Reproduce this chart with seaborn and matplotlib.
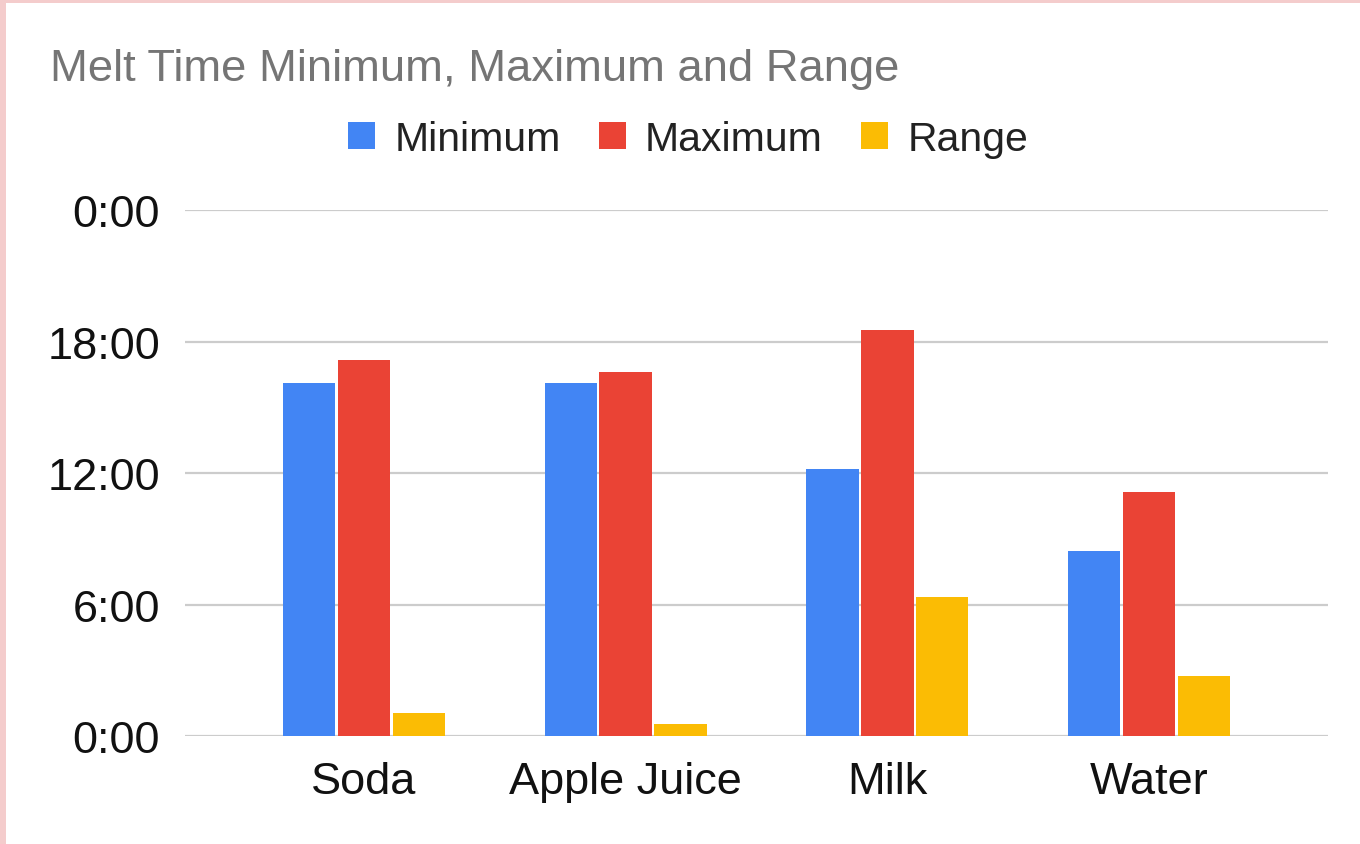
import matplotlib
matplotlib.use("Agg")
import matplotlib.pyplot as plt
import seaborn as sns
import pandas as pd
from matplotlib.patches import Rectangle

# Data (melt times in minutes)
categories = ["Soda", "Apple Juice", "Milk", "Water"]
minimum = [16.1, 16.1, 12.18, 8.44]
maximum = [17.15, 16.6, 18.52, 11.13]
rng = [1.05, 0.55, 6.34, 2.74]
series_names = ["Minimum", "Maximum", "Range"]
ytick_values = [0, 6, 12, 18, 24]
ytick_labels = ["0:00", "6:00", "12:00", "18:00", "0:00"]
colors = ["#4285F4", "#EA4335", "#FBBC04"]

df = pd.DataFrame({
    "Category": categories * 3,
    "Series": sum([[s] * len(categories) for s in series_names], []),
    "Value": minimum + maximum + rng,
})

sns.set_theme(style="white")
plt.rcParams["font.family"] = ["Liberation Sans", "DejaVu Sans"]

W, H = 1360, 845
fig = plt.figure(figsize=(W / 100, H / 100), dpi=100)
fig.patch.set_facecolor("white")

ax = fig.add_axes([185 / W, 1 - 737 / H, (1328 - 185) / W, (737 - 211) / H])
sns.barplot(data=df, x="Category", y="Value", hue="Series", order=categories,
            hue_order=series_names, palette=colors, width=0.63, gap=0.05,
            saturation=1, ax=ax, legend=True)

ax.set_xlim(-0.683, 3.683)
ax.set_ylim(0, 24)
ax.set_yticks(ytick_values)
ax.set_yticklabels(ytick_labels)
ax.set_xlabel("")
ax.set_ylabel("")
for s in ax.spines.values():
    s.set_visible(False)
ax.yaxis.grid(True, color="#cccccc", linewidth=1.6)
ax.set_axisbelow(True)
ax.tick_params(axis="y", length=0, pad=18, labelsize=32.5, labelcolor="#111111")
ax.tick_params(axis="x", length=0, pad=18, labelsize=32.5, labelcolor="#111111")
for p in ax.patches:
    p.set_edgecolor("none")

handles, labels = ax.get_legend_handles_labels()
ax.get_legend().remove()
leg = fig.legend(handles, labels, loc="center", bbox_to_anchor=(688 / W, 1 - 140 / H),
                 ncol=3, frameon=False, fontsize=29.5, handlelength=0.66, handleheight=0.66,
                 handletextpad=0.47, columnspacing=0.93)
for t in leg.get_texts():
    t.set_color("#222222")

fig.text(50 / W, 1 - 70 / H, "Melt Time Minimum, Maximum and Range",
         fontsize=32.7, color="#757575", ha="left", va="center")

# pink border (top and left)
fig.patches.append(Rectangle((0, 1 - 4 / H), 1, 4 / H, transform=fig.transFigure,
                             facecolor="#f4cccc", edgecolor="none"))
fig.patches.append(Rectangle((0, 0), 6 / W, 1, transform=fig.transFigure,
                             facecolor="#f4cccc", edgecolor="none"))

fig.savefig("out.png", dpi=100)
